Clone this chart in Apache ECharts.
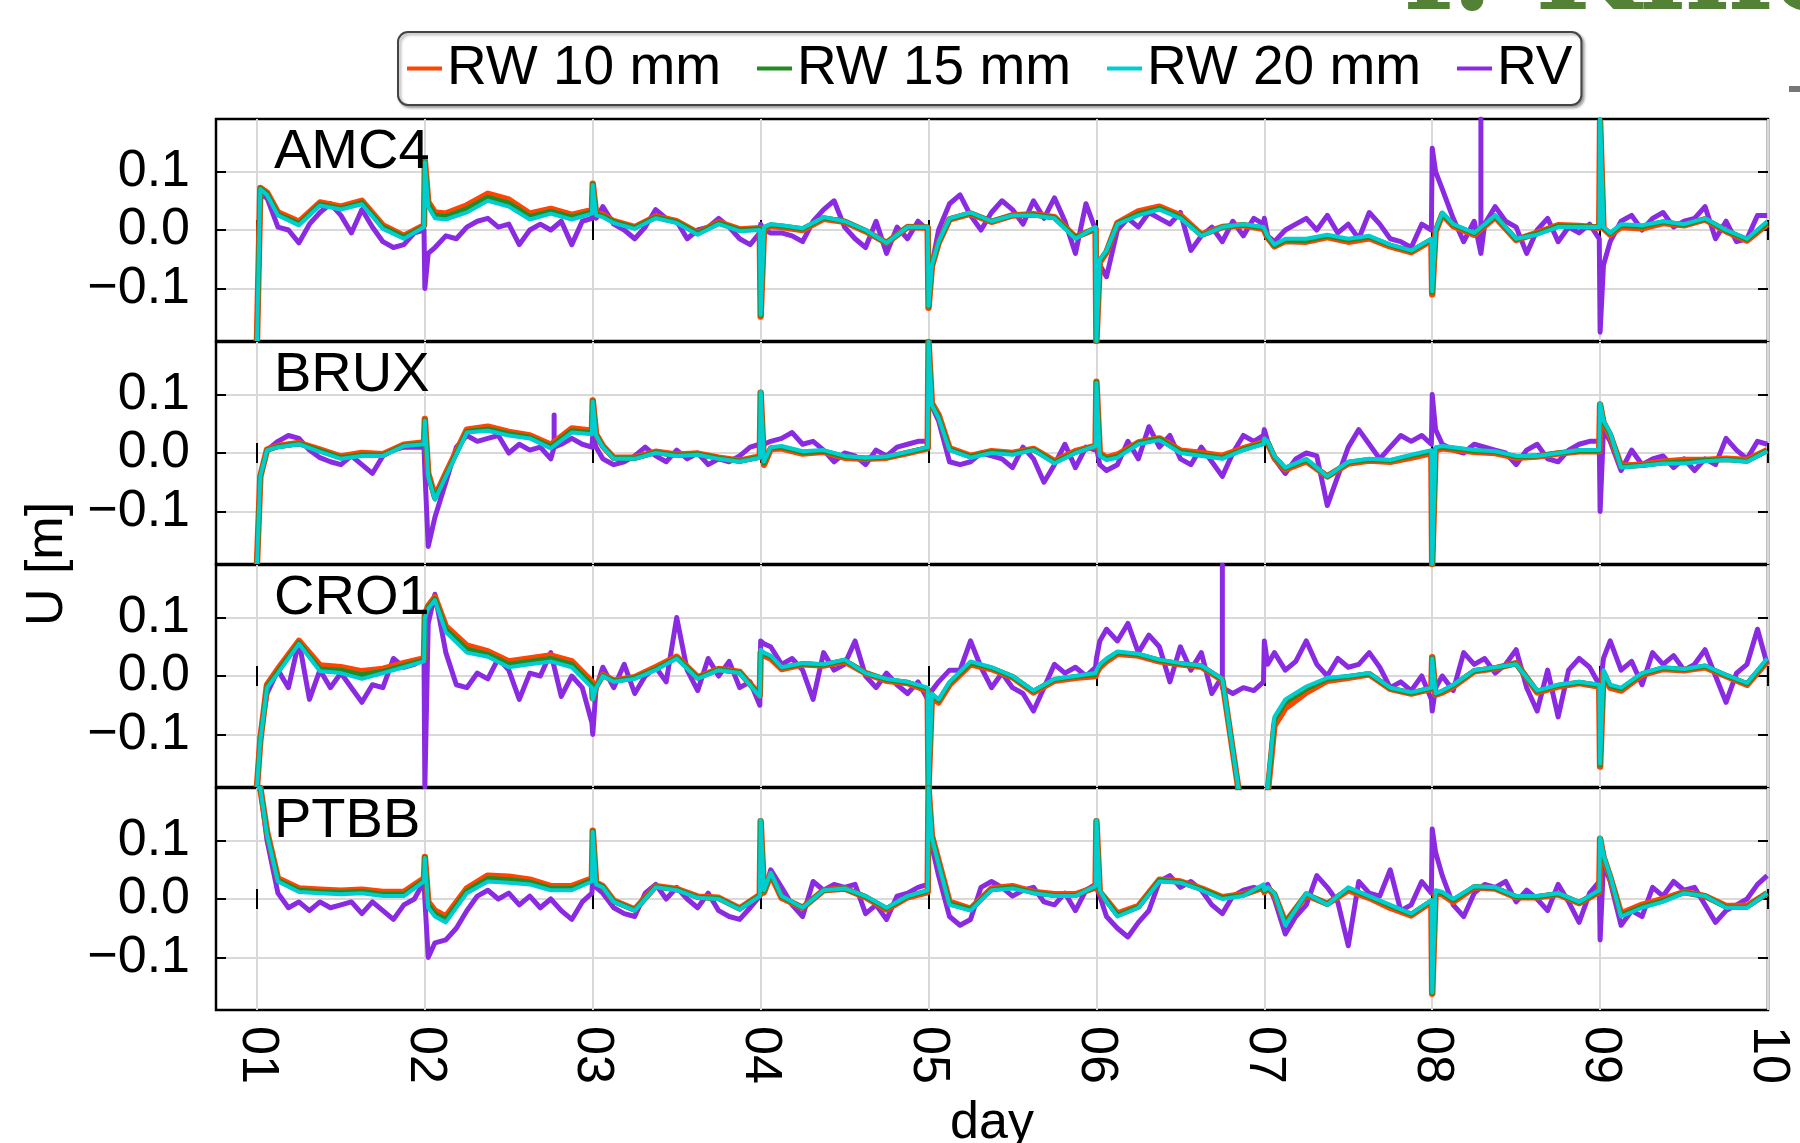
<!DOCTYPE html>
<html>
<head>
<meta charset="utf-8">
<script src="https://cdn.jsdelivr.net/npm/echarts@6/dist/echarts.min.js"></script>
<style>
  html, body { margin: 0; padding: 0; background: #fff; }
  #chart { width: 1800px; height: 1143px; }
</style>
</head>
<body>
<div id="chart"></div>
<script>
// time grid: day starts and the fraction of a day for each sample
const days = [1, 2, 3, 4, 5, 6, 7, 8, 9]
const rwFrac = [0, 0.02, 0.06, 0.125, 0.25, 0.375, 0.5, 0.625, 0.75, 0.875, 0.995]
const rvFrac = [0, 0.02, 0.06, 0.125, 0.1875, 0.25, 0.3125, 0.375, 0.4375, 0.5, 0.5625, 0.625, 0.6875, 0.75, 0.8125, 0.875, 0.9375, 0.995]
const dayTicks = [1, 2, 3, 4, 5, 6, 7, 8, 9, 10]
const yTicks = [-0.1, 0, 0.1]
const stations = ['AMC4', 'BRUX', 'CRO1', 'PTBB']
const seriesNames = ['RW 10 mm', 'RW 15 mm', 'RW 20 mm', 'RV']

// values in mm, one row per day
const amc4Rw10 = [
  -190, 72, 64, 30, 14, 47, 40, 50, 8, -10, 8,
  118, 48, 30, 28, 42, 62, 52, 28, 36, 26, 34,
  79, 28, 26, 15, 5, 23, 15, -5, 13, 1, 3,
  -148, 2, 7, 5, 0, 19, 14, -2, -22, 5, 4,
  -133, -62, -22, 18, 28, 14, 25, 27, 22, -12, 2,
  -190, -55, -38, 12, 32, 40, 25, -8, 5, 8, 2,
  3, -13, -28, -19, -20, -12, -20, -14, -28, -38, -18,
  -110, -3, 27, 7, -8, 22, -17, -5, 8, 7, 4,
  185, 3, -8, 5, 3, 12, 8, 18, -2, -18, 10
]
const amc4Rw15 = [
  -190, 71, 62, 27, 11, 44, 37, 47, 5, -12, 6,
  117, 44, 25, 23, 36, 56, 46, 23, 32, 22, 31,
  78, 27, 24, 14, 4, 22, 14, -6, 12, 0, 2,
  -146, 4, 9, 7, 2, 21, 15, -1, -22, 5, 5,
  -131, -61, -21, 19, 29, 15, 25, 26, 21, -13, 3,
  -190, -52, -36, 11, 28, 37, 22, -9, 5, 9, 4,
  4, -12, -27, -17, -18, -10, -17, -12, -26, -36, -16,
  -107, -1, 28, 9, -6, 24, -16, -6, 7, 6, 5,
  188, 4, -6, 8, 6, 14, 9, 19, -1, -16, 12
]
const amc4Rw20 = [
  -190, 70, 60, 25, 8, 42, 35, 44, 2, -15, 5,
  116, 40, 20, 18, 30, 50, 40, 18, 28, 18, 28,
  77, 25, 22, 12, 2, 20, 12, -8, 10, -2, 0,
  -145, 5, 10, 8, 3, 22, 15, 0, -22, 5, 5,
  -130, -60, -20, 20, 30, 15, 25, 25, 20, -15, 5,
  -190, -50, -35, 10, 25, 35, 20, -10, 5, 10, 5,
  5, -10, -25, -15, -15, -8, -15, -10, -25, -35, -15,
  -105, 0, 30, 10, -5, 25, -15, -8, 5, 5, 5,
  190, 5, -5, 10, 8, 15, 10, 20, 0, -15, 15
]
const amc4Rv = [
  -190, 60, 55, 5, 0, -22, 10, 30, 45, 25, -5, 35, 5, -20, -30, -25, -5, 0,
  -100, -40, -30, -10, -15, 5, 15, 20, 5, 10, -25, 0, 10, 0, 15, -25, 15, 20,
  60, 20, 40, 10, 0, -15, 5, 35, 20, 15, -15, 0, 5, 20, 5, -15, -25, -5,
  10, 0, -5, -5, -10, -20, 15, 35, 50, 5, -15, -30, 15, -40, 5, -15, 15, 0,
  -100, -60, 0, 45, 60, 25, 0, 30, 50, 35, 10, 50, 20, 55, 15, -40, 45, 0,
  -120, -60, -80, 0, 20, 5, 30, 20, 10, 30, -35, -10, 5, -20, 15, -10, 20, 10,
  20, -10, -20, 0, 10, 20, 0, 25, -5, 10, -15, 30, 10, -15, -20, -30, 10, 0,
  140, 100, 70, 20, -20, 15, 10, 40, 15, 5, -40, 0, 20, -20, 5, -5, 10, -15,
  -175, -60, -20, 15, 25, 0, 20, 30, 5, 15, 20, 40, -15, 15, -20, -15, 25, 25
]
const amc4RvGlitch = [[8.29, -40, 190]]

const bruxRw10 = [
  -190, -40, 6, 12, 17, 6, -6, 0, -2, 14, 18,
  58, -35, -75, -35, 40, 45, 36, 30, 14, 42, 38,
  90, 32, 12, -8, -8, 2, -3, -1, -8, -13, -6,
  103, -20, 7, 8, -1, 2, -8, -10, -8, 0, 8,
  190, 85, 65, 8, -5, 3, 0, 7, -14, 3, 12,
  122, 0, -8, -3, 18, 25, 4, 0, -5, 8, 18,
  22, 17, -8, -28, -14, -40, -18, -13, -15, -8, 0,
  -190, 5, 8, 6, 2, 0, -8, -6, -1, 3, 3,
  83, 52, 30, -22, -20, -15, -12, -12, -10, -12, 5
]
const bruxRw15 = [
  -190, -40, 5, 11, 16, 4, -8, -3, -4, 13, 16,
  56, -38, -78, -38, 37, 41, 33, 27, 11, 38, 35,
  89, 31, 11, -9, -9, 1, -4, -2, -9, -14, -7,
  104, -17, 9, 10, 1, 3, -6, -9, -7, 1, 9,
  190, 83, 62, 6, -6, 2, -1, 6, -16, 1, 12,
  121, -3, -10, -6, 17, 24, 2, -3, -8, 6, 17,
  24, 19, -6, -26, -12, -40, -16, -11, -13, -5, 3,
  -190, 8, 10, 8, 4, 2, -6, -5, 0, 4, 4,
  84, 54, 33, -24, -21, -17, -15, -13, -11, -14, 4
]
const bruxRw20 = [
  -190, -40, 5, 10, 15, 2, -10, -5, -5, 12, 15,
  55, -40, -80, -40, 35, 38, 30, 25, 8, 35, 32,
  88, 30, 10, -10, -10, 0, -5, -3, -10, -15, -8,
  105, -15, 10, 12, 3, 5, -5, -8, -6, 2, 10,
  190, 82, 60, 5, -8, 0, -3, 5, -18, 0, 12,
  120, -5, -12, -8, 15, 22, 0, -5, -10, 5, 15,
  25, 20, -5, -25, -10, -40, -15, -10, -12, -3, 5,
  -190, 10, 12, 10, 5, 3, -5, -5, 0, 5, 5,
  85, 55, 35, -25, -22, -18, -18, -14, -12, -15, 3
]
const bruxRv = [
  -190, -40, 5, 20, 30, 25, 5, -8, -15, -20, -5, -20, -35, -5, 5, 10, 10, 10,
  -30, -160, -110, -50, 10, 30, 20, 25, 30, 0, 15, 5, 10, -10, 15, 25, 15, 10,
  30, 10, -10, -20, -15, -5, 10, -5, -15, 5, -10, 0, -20, -10, -15, -5, 10, 15,
  20, 15, 20, 25, 35, 15, 20, 5, -15, 0, -5, -20, 5, -5, 10, 15, 20, 20,
  150, 80, 55, -15, -20, -15, 0, -5, -10, -25, 10, -10, -50, -20, 15, -25, 10, 5,
  10, -20, -30, -20, 20, -10, 45, 10, 30, -10, -20, 10, -15, -40, 0, 30, 20, 30,
  40, 20, -10, -35, -10, 0, -5, -90, -40, 10, 40, 15, -10, 10, 30, 20, 30, 15,
  100, 40, 15, 5, 0, 15, 10, 5, 0, -20, 5, 15, -10, -15, 5, 15, 20, 20,
  -100, 40, 20, -30, 5, -20, -10, -5, -25, -10, -30, -10, -20, 25, 5, -10, 20, 15
]
const bruxRvGlitch = [[2.77, 10, 65]]

const cro1Rw10 = [
  -190, -110, -15, 12, 60, 18, 15, 8, 12, 22, 30,
  105, 120, 135, 85, 52, 42, 25, 30, 35, 25, -10,
  -38, -18, 2, -8, -2, 15, 33, -2, 12, 7, -33,
  40, 35, 30, 12, 20, 18, 25, 5, -8, -12, -25,
  -190, -35, -45, -15, 20, 12, -2, -28, -8, -3, 0,
  5, 15, 25, 38, 35, 25, 20, 16, -7, -250, -250,
  -250, -200, -85, -55, -28, -8, -3, 3, -22, -30, -22,
  32, -32, -28, -18, 8, 13, 22, -28, -18, -12, -18,
  -155, 5, -20, -25, 2, 12, 10, 15, 0, -15, 25
]
const cro1Rw15 = [
  -190, -110, -18, 8, 57, 12, 10, 2, 8, 18, 27,
  103, 118, 132, 80, 46, 37, 20, 25, 30, 20, -15,
  -39, -19, 1, -9, -3, 12, 31, -3, 11, 6, -34,
  43, 38, 33, 14, 21, 19, 27, 5, -6, -11, -22,
  -190, -32, -42, -12, 22, 14, -1, -26, -6, -1, 3,
  8, 18, 28, 40, 37, 27, 21, 17, -6, -250, -250,
  -250, -195, -75, -45, -22, -5, -1, 4, -21, -29, -21,
  31, -31, -26, -16, 9, 14, 21, -26, -16, -11, -16,
  -152, 8, -17, -22, 4, 14, 11, 17, 1, -13, 28
]
const cro1Rw20 = [
  -190, -110, -20, 5, 55, 8, 5, -5, 5, 15, 25,
  100, 115, 130, 75, 40, 33, 15, 20, 25, 15, -20,
  -40, -20, 0, -10, -5, 10, 30, -5, 10, 5, -35,
  45, 40, 35, 15, 22, 20, 28, 5, -5, -10, -20,
  -190, -30, -40, -10, 25, 15, 0, -25, -5, 0, 5,
  10, 20, 30, 42, 38, 28, 22, 18, -5, -250, -250,
  -250, -190, -70, -40, -18, -3, 0, 5, -20, -28, -20,
  30, -30, -25, -15, 10, 15, 20, -25, -15, -10, -15,
  -150, 10, -15, -20, 5, 15, 12, 18, 2, -12, 30
]
const cro1Rv = [
  -190, -100, -30, 10, -20, 60, -40, 10, -20, 5, -20, -45, -15, -20, 30, 15, 20, 30,
  -190, 90, 140, 40, -15, -20, 5, -5, 30, 10, -40, 5, 0, 40, -35, 0, -20, -80,
  -100, -20, 15, -20, 20, -30, 0, 15, -10, 100, 10, -25, 30, 0, 25, -20, -10, -50,
  60, 55, 50, 20, 30, 10, -40, 40, 10, 20, 60, 0, -20, 5, -15, -30, -10, -40,
  -50, -25, -10, 10, 10, 60, 15, -20, 5, -20, -30, -60, -20, 20, 5, 15, 0, 15,
  30, 60, 80, 60, 90, 40, 70, 50, -10, 50, 10, 40, -30, 0, -30, -20, -25, -10,
  60, 20, 40, 10, 25, 60, 20, 0, 30, 15, 20, 40, 15, -20, -10, -25, 0, -40,
  -60, -20, 0, -25, 40, 20, 30, 5, 20, 45, -20, -60, 10, -70, 10, 30, 15, -15,
  -20, 30, 60, 10, 25, -15, 40, 20, 35, 10, 20, 45, 0, -45, 5, 20, 80, 20
]
const cro1RvGlitch = [[6.75, -20, 190]]

const ptbbRw10 = [
  190, 190, 115, 35, 18, 16, 14, 16, 12, 12, 35,
  72, -5, -20, -30, 18, 40, 38, 33, 22, 22, 35,
  117, 28, 22, -3, -18, 22, 17, 4, 2, -16, 7,
  133, 12, 42, 2, -15, 15, 18, 3, -18, 3, 12,
  190, 108, 65, -5, -17, 18, 22, 12, 8, 8, 20,
  133, 12, -2, -25, -12, 33, 30, 18, 3, 8, 20,
  12, 18, 8, -40, 7, -8, 15, 2, -15, -28, -5,
  -162, 10, 8, -5, 20, 18, 3, 3, 8, -7, 12,
  103, 72, 38, -25, -10, 0, 12, 5, -12, -12, 10
]
const ptbbRw15 = [
  190, 190, 112, 32, 15, 13, 11, 13, 8, 8, 32,
  71, -10, -25, -35, 14, 35, 33, 29, 18, 18, 33,
  116, 27, 21, -4, -19, 21, 16, 3, 1, -17, 6,
  134, 14, 44, 4, -15, 15, 18, 4, -16, 4, 14,
  190, 106, 62, -8, -18, 16, 20, 11, 6, 6, 21,
  134, 14, -3, -28, -14, 32, 29, 17, 2, 7, 22,
  14, 19, 9, -42, 9, -9, 18, 4, -12, -26, -3,
  -161, 12, 10, -2, 21, 19, 4, 4, 9, -6, 14,
  104, 74, 39, -28, -13, -3, 11, 5, -14, -14, 10
]
const ptbbRw20 = [
  190, 190, 110, 30, 12, 10, 8, 10, 5, 5, 30,
  70, -15, -30, -40, 10, 30, 28, 25, 15, 15, 30,
  115, 25, 20, -5, -20, 20, 15, 2, 0, -18, 5,
  135, 15, 45, 5, -15, 15, 18, 5, -15, 5, 15,
  190, 105, 60, -10, -20, 15, 18, 10, 5, 5, 22,
  135, 15, -5, -30, -15, 30, 28, 15, 0, 5, 25,
  15, 20, 10, -45, 10, -10, 20, 5, -10, -25, -2,
  -160, 15, 12, 0, 22, 20, 5, 5, 10, -5, 15,
  105, 75, 40, -30, -15, -5, 10, 5, -15, -15, 10
]
const ptbbRv = [
  190, 190, 100, 10, -15, -5, -20, -5, -15, -10, -5, -25, -5, -20, -35, -10, 0, 30,
  0, -100, -75, -70, -50, -20, 5, 15, 0, 10, -10, 5, -15, 0, -20, -35, -5, 10,
  40, 20, 10, -15, -25, -30, 10, 25, 0, 20, 0, -15, 10, -20, -30, -35, -15, 5,
  30, 10, 50, 20, -10, -30, 30, 15, 25, 20, 25, -25, -10, -35, 5, 10, 20, 25,
  190, 90, 40, -30, -45, -35, 20, 30, 20, 5, 15, 20, -5, -10, 10, -20, 15, 25,
  20, 5, -30, -50, -65, -40, -20, 30, 40, 20, 30, 15, -10, -25, 5, 15, 20, 15,
  20, 25, 0, -60, -30, -10, 40, 20, -5, -80, 30, 10, 5, 50, -20, -10, 30, 10,
  120, 80, 40, -10, -30, 10, 25, 20, 30, -5, 15, 0, -20, 25, -5, -40, 10, 30,
  -70, 60, 30, -45, -20, -30, 20, 5, 30, 15, 20, -10, -40, -20, -10, 0, 25, 40
]
const ptbbRvGlitch = []

const panels = [
  { rw10: amc4Rw10, rw15: amc4Rw15, rw20: amc4Rw20, rv: amc4Rv, glitch: amc4RvGlitch },
  { rw10: bruxRw10, rw15: bruxRw15, rw20: bruxRw20, rv: bruxRv, glitch: bruxRvGlitch },
  { rw10: cro1Rw10, rw15: cro1Rw15, rw20: cro1Rw20, rv: cro1Rv, glitch: cro1RvGlitch },
  { rw10: ptbbRw10, rw15: ptbbRw15, rw20: ptbbRw20, rv: ptbbRv, glitch: ptbbRvGlitch }
]

const colors = { 'RW 10 mm': '#ff4500', 'RW 15 mm': '#228b22', 'RW 20 mm': '#00cdd0', 'RV': '#8a2be2' }
const font = 'Liberation Sans, Arial, sans-serif'

// pair each value with its time (days), mm -> m
function toPoints(vals, frac, glitches) {
  const pts = []
  days.forEach((d, i) => {
    frac.forEach((f, j) => {
      pts.push([d + f, vals[i * frac.length + j] / 1000])
    })
  })
  ;(glitches || []).forEach(g => {
    const k = pts.findIndex(p => p[0] > g[0])
    pts.splice(k, 0, [g[0], g[1] / 1000], [g[0], g[2] / 1000], [g[0], g[1] / 1000])
  })
  return pts
}

const gridTop = [119, 342, 565, 788]
const gridH = 222
const xMin = 0.756
const xMax = 10

const grids = []
const xAxes = []
const yAxes = []
const series = []

function fmtY(v) {
  if (Math.abs(v) < 1e-9) return '0.0'
  return v > 0 ? v.toFixed(1) : '\u2212' + (-v).toFixed(1)
}

const tickStyle = { show: true, inside: true, length: 10, lineStyle: { color: '#000', width: 2 } }

stations.forEach((name, i) => {
  grids.push({
    left: 216, width: 1552, top: gridTop[i], height: gridH,
    outerBoundsMode: 'none', containLabel: false,
    show: true, borderColor: '#000', borderWidth: 2.5, backgroundColor: 'transparent'
  })
  const last = i === stations.length - 1
  xAxes.push({
    type: 'value', gridIndex: i, min: xMin, max: xMax, position: 'bottom',
    axisLine: { show: false },
    axisTick: Object.assign({ customValues: dayTicks }, tickStyle),
    splitLine: { show: true, lineStyle: { color: '#d9d9d9', width: 2 } },
    axisLabel: {
      show: last, customValues: dayTicks, rotate: -90, margin: 16,
      fontSize: 52, fontFamily: font, color: '#000',
      formatter: v => String(Math.round(v)).padStart(2, '0')
    },
    name: last ? 'day' : '', nameLocation: 'middle', nameGap: 88,
    nameTextStyle: { fontSize: 52, fontFamily: font, color: '#000' }
  })
  xAxes.push({
    type: 'value', gridIndex: i, min: xMin, max: xMax, position: 'top',
    axisLine: { show: false },
    axisTick: Object.assign({ customValues: dayTicks }, tickStyle),
    splitLine: { show: false }, axisLabel: { show: false }
  })
  yAxes.push({
    type: 'value', gridIndex: i, min: -0.19, max: 0.19, position: 'left',
    axisLine: { show: false },
    axisTick: Object.assign({ customValues: yTicks }, tickStyle),
    splitLine: { show: true, lineStyle: { color: '#d9d9d9', width: 2 } },
    axisLabel: {
      customValues: yTicks, margin: 26, fontSize: 52, fontFamily: font, color: '#000',
      formatter: fmtY
    }
  })
  yAxes.push({
    type: 'value', gridIndex: i, min: -0.19, max: 0.19, position: 'right',
    axisLine: { show: false },
    axisTick: Object.assign({ customValues: yTicks }, tickStyle),
    splitLine: { show: false }, axisLabel: { show: false }
  })

  const p = panels[i]
  const lines = [
    ['RV', toPoints(p.rv, rvFrac, p.glitch), 5],
    ['RW 10 mm', toPoints(p.rw10, rwFrac), 6.5],
    ['RW 15 mm', toPoints(p.rw15, rwFrac), 5],
    ['RW 20 mm', toPoints(p.rw20, rwFrac), 4]
  ]
  lines.forEach(([sname, data, w]) => {
    series.push({
      name: sname, type: 'line', xAxisIndex: 2 * i, yAxisIndex: 2 * i,
      data: data, showSymbol: false, symbol: 'none', clip: true,
      color: colors[sname],
      lineStyle: { width: w, color: colors[sname], join: 'round' }
    })
  })
})

const graphics = stations.map((name, i) => ({
  type: 'text', left: 274, top: gridTop[i] + 6, z: 10,
  style: { text: name, fontSize: 56, fontFamily: font, fill: '#000' }
}))
graphics.push({
  type: 'text', x: 48, y: 564, rotation: Math.PI / 2,
  style: { text: 'U [m]', fontSize: 52, fontFamily: font, fill: '#000', align: 'center', verticalAlign: 'middle' }
})
graphics.push({
  type: 'text', x: 1404, y: 38,
  style: { text: 'f. Kine', fontSize: 120, fontFamily: 'DejaVu Serif', fontWeight: 'bold', fill: '#538135', verticalAlign: 'bottom' }
})
graphics.push({
  type: 'rect', shape: { x: 1789, y: 86, width: 11, height: 6 },
  style: { fill: '#777' }
})

const chart = echarts.init(document.getElementById('chart'))
chart.setOption({
  animation: false,
  backgroundColor: '#fff',
  legend: {
    data: seriesNames,
    left: 398, top: 32, padding: [9, 9],
    icon: 'rect', itemWidth: 35, itemHeight: 4, itemGap: 36,
    textStyle: { fontSize: 55, fontFamily: font, color: '#000' },
    borderColor: '#444', borderWidth: 2, borderRadius: 10,
    backgroundColor: '#fff',
    shadowColor: 'rgba(0,0,0,0.35)', shadowBlur: 3, shadowOffsetX: 2, shadowOffsetY: 2
  },
  grid: grids,
  xAxis: xAxes,
  yAxis: yAxes,
  series: series,
  graphic: graphics
})
</script>
</body>
</html>
